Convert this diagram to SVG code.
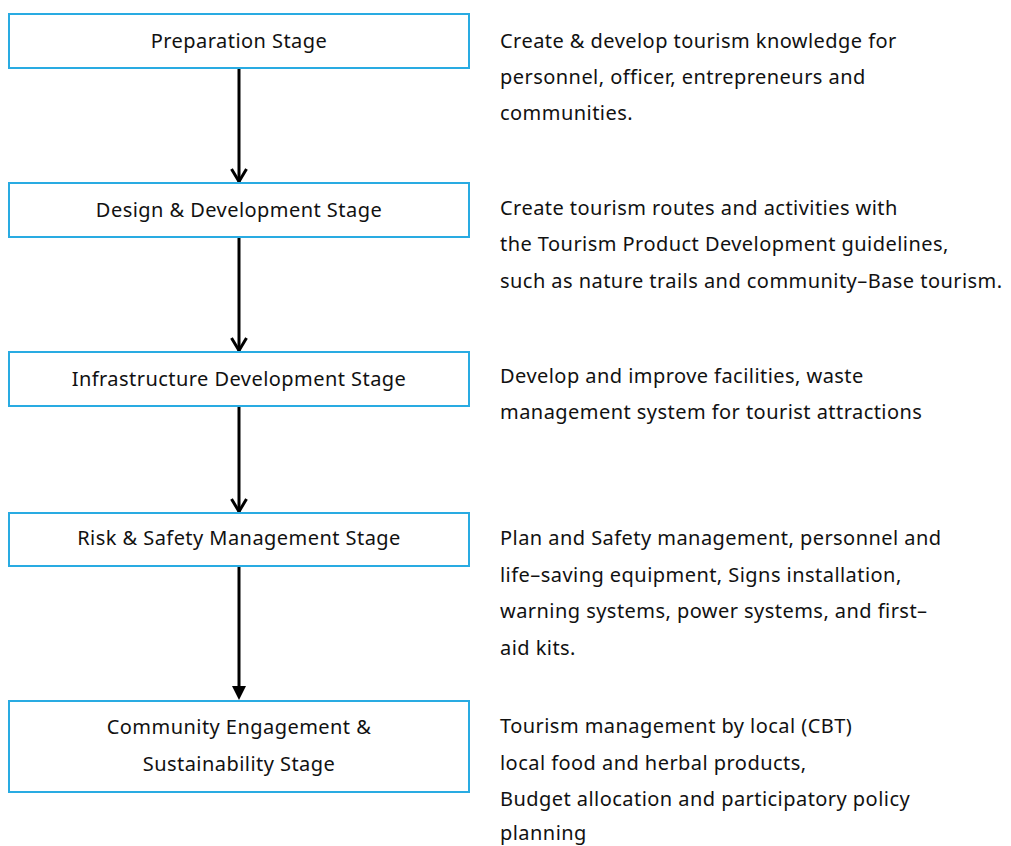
<svg xmlns="http://www.w3.org/2000/svg" width="1011" height="846" viewBox="0 0 1011 846">
<defs>
<style>
.box{fill:#fff;stroke:#29abe2;stroke-width:2}
.t{font-family:"Noto Sans","Open Sans",sans-serif;font-size:20px;letter-spacing:0.45px;fill:#111}
.c{text-anchor:middle}
.conn{stroke:#000;stroke-width:3;fill:none}
</style>
<marker id="open" viewBox="0 0 16 18" refX="14" refY="9" markerWidth="16" markerHeight="18" markerUnits="userSpaceOnUse" orient="auto">
<path d="M1,1.5 L13.5,9 L1,16.5" fill="none" stroke="#000" stroke-width="3"/>
</marker>
<marker id="filled" viewBox="0 0 14 14" refX="4" refY="7" markerWidth="14" markerHeight="14" markerUnits="userSpaceOnUse" orient="auto">
<path d="M0,0 L14,7 L0,14 Z" fill="#000"/>
</marker>
</defs>
<rect width="1011" height="846" fill="#fff"/>
<g id="connectors">
<line class="conn" x1="239" y1="69" x2="239" y2="182" marker-end="url(#open)"/>
<line class="conn" x1="239" y1="238" x2="239" y2="351" marker-end="url(#open)"/>
<line class="conn" x1="239" y1="407" x2="239" y2="512" marker-end="url(#open)"/>
<line class="conn" x1="239" y1="567" x2="239" y2="690" marker-end="url(#filled)"/>
</g>
<g id="n1">
<rect class="box" x="9" y="14" width="460" height="54"/>
<text class="t c" x="239" y="48">Preparation Stage</text>
</g>
<g id="n2">
<rect class="box" x="9" y="183" width="460" height="54"/>
<text class="t c" x="239" y="217">Design &amp; Development Stage</text>
</g>
<g id="n3">
<rect class="box" x="9" y="352" width="460" height="54"/>
<text class="t c" x="239" y="386">Infrastructure Development Stage</text>
</g>
<g id="n4">
<rect class="box" x="9" y="513" width="460" height="53"/>
<text class="t c" x="239" y="545">Risk &amp; Safety Management Stage</text>
</g>
<g id="n5">
<rect class="box" x="9" y="701" width="460" height="91"/>
<text class="t c" x="239" y="734">Community Engagement &amp;</text>
<text class="t c" x="239" y="771">Sustainability Stage</text>
</g>
<g id="d1" class="t">
<text x="500" y="48">Create &amp; develop tourism knowledge for</text>
<text x="500" y="84">personnel, officer, entrepreneurs and</text>
<text x="500" y="120">communities.</text>
</g>
<g id="d2" class="t">
<text x="500" y="215">Create tourism routes and activities with</text>
<text x="500" y="251">the Tourism Product Development guidelines,</text>
<text x="500" y="288">such as nature trails and community–Base tourism.</text>
</g>
<g id="d3" class="t">
<text x="500" y="383">Develop and improve facilities, waste</text>
<text x="500" y="419">management system for tourist attractions</text>
</g>
<g id="d4" class="t">
<text x="500" y="545">Plan and Safety management, personnel and</text>
<text x="500" y="582">life–saving equipment, Signs installation,</text>
<text x="500" y="618">warning systems, power systems, and first–</text>
<text x="500" y="655">aid kits.</text>
</g>
<g id="d5" class="t">
<text x="500" y="733">Tourism management by local (CBT)</text>
<text x="500" y="770">local food and herbal products,</text>
<text x="500" y="806">Budget allocation and participatory policy</text>
<text x="500" y="840">planning</text>
</g>
</svg>
